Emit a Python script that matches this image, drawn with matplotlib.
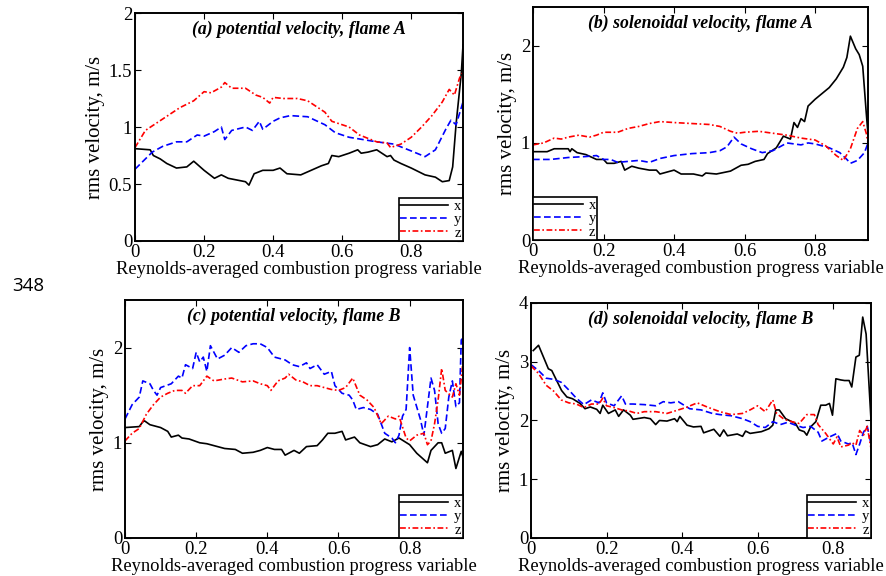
import matplotlib
matplotlib.use('Agg')
import matplotlib.pyplot as plt
from matplotlib.ticker import FormatStrFormatter

plt.rcParams['font.family'] = ['Liberation Serif', 'DejaVu Serif']

# (a) potential velocity, flame A
a_x_c = [0.0, 0.044, 0.053, 0.073, 0.092, 0.12, 0.15, 0.17, 0.20, 0.23, 0.25, 0.27, 0.32, 0.33, 0.345, 0.37, 0.40, 0.42, 0.44, 0.48,
         0.51, 0.54, 0.56, 0.57, 0.59, 0.62, 0.645, 0.655, 0.675, 0.70, 0.73, 0.74, 0.75, 0.77, 0.80, 0.84, 0.87, 0.89, 0.91, 0.92,
         0.93, 0.945, 0.95]
a_x_v = [0.81, 0.80, 0.75, 0.72, 0.68, 0.64, 0.65, 0.70, 0.62, 0.55, 0.58, 0.55, 0.52, 0.49, 0.59, 0.62, 0.62, 0.64, 0.59, 0.58,
         0.62, 0.66, 0.68, 0.75, 0.74, 0.77, 0.80, 0.77, 0.78, 0.80, 0.74, 0.75, 0.71, 0.68, 0.64, 0.58, 0.56, 0.52, 0.53, 0.65,
         1.03, 1.47, 1.72]
a_y_c = [0.0, 0.03, 0.05, 0.08, 0.12, 0.15, 0.18, 0.20, 0.23, 0.25, 0.26, 0.28, 0.32, 0.34, 0.36, 0.37, 0.40, 0.42, 0.45, 0.50,
         0.55, 0.58, 0.62, 0.70, 0.75, 0.80, 0.84, 0.87, 0.90, 0.915, 0.93, 0.95]
a_y_v = [0.63, 0.72, 0.78, 0.83, 0.87, 0.87, 0.93, 0.92, 0.96, 1.0, 0.89, 0.97, 1.0, 0.97, 1.05, 0.98, 1.05, 1.08, 1.10, 1.09,
         1.02, 0.95, 0.91, 0.87, 0.85, 0.79, 0.74, 0.80, 0.98, 1.06, 1.02, 1.22]
a_z_c = [0.0, 0.03, 0.06, 0.10, 0.13, 0.17, 0.20, 0.22, 0.25, 0.26, 0.28, 0.32, 0.35, 0.37, 0.39, 0.40, 0.43, 0.47, 0.50, 0.55,
         0.57, 0.62, 0.65, 0.70, 0.73, 0.74, 0.77, 0.80, 0.83, 0.86, 0.89, 0.91, 0.925, 0.94, 0.95]
a_z_v = [0.82, 0.97, 1.03, 1.11, 1.17, 1.23, 1.31, 1.30, 1.35, 1.39, 1.34, 1.34, 1.28, 1.26, 1.21, 1.26, 1.25, 1.25, 1.23, 1.13,
         1.05, 1.00, 0.93, 0.87, 0.86, 0.82, 0.85, 0.91, 1.00, 1.10, 1.22, 1.33, 1.28, 1.43, 1.48]

# (b) solenoidal velocity, flame A
b_x_c = [0.0, 0.04, 0.06, 0.10, 0.105, 0.11, 0.125, 0.15, 0.18, 0.20, 0.21, 0.23, 0.25, 0.26, 0.28, 0.30, 0.33, 0.35, 0.36, 0.38,
         0.40, 0.42, 0.455, 0.48, 0.49, 0.52, 0.56, 0.59, 0.61, 0.63, 0.655, 0.665, 0.69, 0.71, 0.73, 0.74, 0.75, 0.76, 0.77, 0.78,
         0.80, 0.82, 0.84, 0.86, 0.88, 0.89, 0.90, 0.915, 0.925, 0.935, 0.945, 0.952]
b_x_v = [0.91, 0.91, 0.94, 0.94, 0.91, 0.94, 0.90, 0.88, 0.83, 0.83, 0.79, 0.79, 0.81, 0.72, 0.76, 0.74, 0.72, 0.72, 0.68, 0.70,
         0.72, 0.68, 0.68, 0.66, 0.69, 0.68, 0.71, 0.77, 0.78, 0.81, 0.83, 0.89, 0.95, 1.07, 1.04, 1.21, 1.16, 1.25, 1.22, 1.38,
         1.45, 1.51, 1.57, 1.66, 1.78, 1.88, 2.10, 1.97, 1.91, 1.79, 1.31, 1.0]
b_y_c = [0.0, 0.05, 0.10, 0.15, 0.18, 0.20, 0.22, 0.24, 0.27, 0.30, 0.33, 0.36, 0.40, 0.45, 0.50, 0.53, 0.55, 0.57, 0.59, 0.62,
         0.65, 0.68, 0.72, 0.76, 0.78, 0.80, 0.84, 0.87, 0.89, 0.90, 0.92, 0.94, 0.95]
b_y_v = [0.83, 0.83, 0.85, 0.86, 0.87, 0.83, 0.83, 0.80, 0.81, 0.82, 0.80, 0.84, 0.87, 0.89, 0.90, 0.92, 0.96, 1.06, 0.99, 0.94,
         0.90, 0.92, 1.0, 0.98, 1.00, 0.99, 0.95, 0.90, 0.83, 0.79, 0.82, 0.90, 1.0]
b_z_c = [0.0, 0.03, 0.06, 0.08, 0.10, 0.13, 0.16, 0.18, 0.20, 0.24, 0.27, 0.30, 0.33, 0.36, 0.40, 0.45, 0.50, 0.53, 0.56, 0.58,
         0.60, 0.64, 0.68, 0.72, 0.76, 0.80, 0.83, 0.86, 0.88, 0.90, 0.92, 0.935, 0.945, 0.95]
b_z_v = [0.98, 1.0, 1.05, 1.04, 1.06, 1.08, 1.06, 1.08, 1.11, 1.11, 1.15, 1.17, 1.20, 1.22, 1.21, 1.20, 1.19, 1.17, 1.12, 1.10,
         1.11, 1.12, 1.10, 1.08, 1.05, 1.03, 0.97, 0.87, 0.82, 0.94, 1.15, 1.22, 1.10, 1.0]

# (c) potential velocity, flame B
c_x_c = [0.0, 0.04, 0.05, 0.055, 0.07, 0.10, 0.12, 0.13, 0.15, 0.16, 0.18, 0.21, 0.23, 0.25, 0.28, 0.31, 0.33, 0.36, 0.38, 0.40,
         0.42, 0.44, 0.45, 0.475, 0.49, 0.51, 0.54, 0.555, 0.57, 0.59, 0.61, 0.62, 0.645, 0.66, 0.69, 0.71, 0.73, 0.75, 0.77, 0.80,
         0.82, 0.85, 0.86, 0.88, 0.89, 0.90, 0.92, 0.93, 0.945, 0.95]
c_x_v = [1.16, 1.17, 1.22, 1.23, 1.19, 1.16, 1.12, 1.06, 1.08, 1.05, 1.04, 1.0, 0.99, 0.97, 0.94, 0.93, 0.89, 0.90, 0.92, 0.95,
         0.93, 0.93, 0.87, 0.92, 0.89, 0.96, 0.97, 1.03, 1.10, 1.10, 1.12, 1.03, 1.06, 1.0, 0.96, 0.98, 1.04, 1.01, 1.05, 0.98,
         0.89, 0.79, 0.92, 1.0, 1.0, 0.89, 0.92, 0.73, 0.91, 0.85]
c_y_c = [0.0, 0.02, 0.04, 0.05, 0.07, 0.08, 0.09, 0.10, 0.13, 0.15, 0.16, 0.17, 0.19, 0.20, 0.21, 0.22, 0.23, 0.24, 0.26, 0.28,
         0.30, 0.32, 0.34, 0.36, 0.38, 0.40, 0.42, 0.45, 0.47, 0.49, 0.51, 0.52, 0.54, 0.56, 0.58, 0.59, 0.61, 0.63, 0.64, 0.65,
         0.67, 0.69, 0.71, 0.73, 0.75, 0.76, 0.77, 0.78, 0.79, 0.80, 0.81, 0.83, 0.84, 0.86, 0.87, 0.88, 0.89, 0.90, 0.91, 0.92,
         0.93, 0.94, 0.945, 0.95]
c_y_v = [1.25, 1.40, 1.48, 1.65, 1.62, 1.55, 1.50, 1.58, 1.62, 1.70, 1.68, 1.82, 1.78, 1.95, 1.85, 1.90, 1.75, 2.02, 1.88, 1.92,
         2.0, 1.95, 2.02, 2.04, 2.04, 2.0, 1.90, 1.87, 1.82, 1.80, 1.84, 1.78, 1.82, 1.72, 1.75, 1.60, 1.52, 1.50, 1.45, 1.35,
         1.37, 1.35, 1.30, 1.10, 1.05, 1.0, 1.08, 1.28, 1.35, 2.0, 1.50, 1.25, 1.08, 1.68, 1.55, 1.20, 1.10, 1.15, 1.48, 1.65,
         1.38, 1.42, 2.08, 2.10]
c_z_c = [0.0, 0.02, 0.04, 0.06, 0.08, 0.10, 0.12, 0.14, 0.16, 0.17, 0.19, 0.21, 0.23, 0.25, 0.28, 0.30, 0.33, 0.36, 0.38, 0.40,
         0.41, 0.43, 0.45, 0.46, 0.48, 0.50, 0.52, 0.54, 0.56, 0.58, 0.60, 0.62, 0.64, 0.66, 0.68, 0.70, 0.72, 0.74, 0.76, 0.77,
         0.79, 0.80, 0.82, 0.84, 0.85, 0.86, 0.87, 0.88, 0.89, 0.90, 0.92, 0.93, 0.94, 0.95]
c_z_v = [1.02, 1.10, 1.15, 1.30, 1.40, 1.48, 1.52, 1.55, 1.55, 1.52, 1.60, 1.60, 1.70, 1.65, 1.67, 1.68, 1.64, 1.65, 1.62, 1.60,
         1.55, 1.65, 1.68, 1.72, 1.66, 1.64, 1.60, 1.60, 1.58, 1.56, 1.55, 1.58, 1.68, 1.50, 1.45, 1.37, 1.20, 1.28, 1.25, 1.28,
         1.05, 1.02, 1.08, 1.10, 0.98, 1.02, 1.20, 1.45, 1.78, 1.55, 1.48, 1.62, 1.50, 1.85]

# (d) solenoidal velocity, flame B
d_x_c = [0.006, 0.02, 0.033, 0.046, 0.055, 0.068, 0.081, 0.095, 0.11, 0.13, 0.143, 0.157, 0.174, 0.183, 0.19, 0.205, 0.223, 0.232,
         0.245, 0.263, 0.27, 0.30, 0.316, 0.33, 0.34, 0.36, 0.38, 0.387, 0.394, 0.413, 0.43, 0.45, 0.457, 0.484, 0.50, 0.51, 0.52,
         0.546, 0.56, 0.568, 0.58, 0.61, 0.63, 0.64, 0.648, 0.657, 0.674, 0.70, 0.71, 0.723, 0.73, 0.74, 0.754, 0.767, 0.78, 0.79,
         0.798, 0.807, 0.82, 0.83, 0.842, 0.849, 0.86, 0.869, 0.878, 0.887, 0.90]
d_x_v = [3.19, 3.28, 3.08, 2.88, 2.85, 2.68, 2.51, 2.40, 2.37, 2.29, 2.20, 2.23, 2.19, 2.12, 2.26, 2.12, 2.18, 2.07,
         2.18, 2.09, 2.02, 2.05, 2.03, 1.93, 2.0, 1.99, 2.03, 1.98, 2.07, 1.92, 1.89, 1.90, 1.79, 1.85, 1.73, 1.84, 1.74,
         1.77, 1.73, 1.82, 1.78, 1.81, 1.86, 1.92, 2.18, 2.18, 2.03, 1.95, 1.84, 1.81, 1.75, 1.89, 1.98, 2.26, 2.26, 2.29,
         2.09, 2.71, 2.69, 2.68, 2.68, 2.57, 3.08, 3.11, 3.76, 3.47, 2.0]
d_y_c = [0.0, 0.02, 0.04, 0.06, 0.08, 0.10, 0.12, 0.14, 0.16, 0.18, 0.19, 0.20, 0.22, 0.24, 0.25, 0.27, 0.30, 0.33, 0.35, 0.37,
         0.39, 0.42, 0.45, 0.48, 0.50, 0.53, 0.56, 0.58, 0.60, 0.62, 0.64, 0.66, 0.68, 0.70, 0.72, 0.74, 0.76, 0.77, 0.79, 0.81,
         0.82, 0.84, 0.85, 0.86, 0.87, 0.88, 0.89, 0.90]
d_y_v = [2.95, 2.85, 2.72, 2.70, 2.65, 2.52, 2.38, 2.27, 2.35, 2.30, 2.47, 2.30, 2.25, 2.42, 2.28, 2.28, 2.27, 2.25, 2.32, 2.30,
         2.32, 2.20, 2.18, 2.12, 2.10, 2.08, 2.03, 1.98, 1.90, 1.88, 1.98, 1.93, 1.97, 1.92, 1.88, 1.90, 1.80, 1.65, 1.72, 1.78,
         1.65, 1.60, 1.62, 1.42, 1.60, 1.80, 1.90, 1.60]
d_z_c = [0.0, 0.02, 0.04, 0.06, 0.08, 0.10, 0.12, 0.14, 0.16, 0.18, 0.19, 0.20, 0.22, 0.24, 0.26, 0.28, 0.30, 0.33, 0.36, 0.39,
         0.41, 0.44, 0.47, 0.50, 0.53, 0.56, 0.58, 0.60, 0.62, 0.64, 0.65, 0.67, 0.69, 0.71, 0.73, 0.75, 0.76, 0.78, 0.80, 0.81,
         0.82, 0.84, 0.85, 0.86, 0.87, 0.88, 0.89, 0.90]
d_z_v = [2.93, 2.80, 2.60, 2.50, 2.35, 2.30, 2.28, 2.22, 2.28, 2.28, 2.38, 2.25, 2.22, 2.18, 2.16, 2.12, 2.15, 2.15, 2.12, 2.18,
         2.22, 2.30, 2.22, 2.15, 2.10, 2.12, 2.18, 2.25, 2.15, 2.35, 2.12, 2.02, 1.98, 1.95, 2.10, 2.10, 1.93, 1.78, 1.60, 1.72,
         1.55, 1.58, 1.62, 1.58, 1.83, 1.75, 1.90, 1.52]

titles = ['(a) potential velocity, flame A', '(b) solenoidal velocity, flame A',
          '(c) potential velocity, flame B', '(d) solenoidal velocity, flame B']
xmax = [0.95, 0.95, 0.95, 0.9]
ymax = [2.0, 2.4, 2.5, 4.0]
yticks = [[0, 0.5, 1, 1.5, 2], [0, 1, 2], [0, 1, 2], [0, 1, 2, 3, 4]]
legend_loc = ['lower right', 'lower left', 'lower right', 'lower right']
data = [(a_x_c, a_x_v, a_y_c, a_y_v, a_z_c, a_z_v),
        (b_x_c, b_x_v, b_y_c, b_y_v, b_z_c, b_z_v),
        (c_x_c, c_x_v, c_y_c, c_y_v, c_z_c, c_z_v),
        (d_x_c, d_x_v, d_y_c, d_y_v, d_z_c, d_z_v)]

# axes boxes in figure fractions (left, bottom, width, height)
boxes = [[0.1524, 0.5816, 0.3702, 0.3958],
         [0.6016, 0.5833, 0.3781, 0.4045],
         [0.1411, 0.0660, 0.3815, 0.4132],
         [0.5993, 0.0660, 0.3838, 0.4080]]

fig = plt.figure(figsize=(8.86, 5.76), dpi=100)

for i in range(4):
    ax = fig.add_axes(boxes[i])
    xc, xv, yc, yv, zc, zv = data[i]
    ax.plot(xc, xv, color='black', linestyle='-', linewidth=1.2, label='x')
    ax.plot(yc, yv, color='blue', linestyle=(0, (4, 2)), linewidth=1.2, label='y')
    ax.plot(zc, zv, color='red', linestyle=(0, (3.5, 1.5, 1, 1.5)), linewidth=1.2, label='z')
    ax.set_xlim(0, xmax[i])
    ax.set_ylim(0, ymax[i])
    ax.set_xticks([0, 0.2, 0.4, 0.6, 0.8])
    ax.set_yticks(yticks[i])
    ax.xaxis.set_major_formatter(FormatStrFormatter('%g'))
    ax.yaxis.set_major_formatter(FormatStrFormatter('%g'))
    ax.tick_params(direction='in', top=True, right=True, length=4, width=0.8,
                   labelsize=13.5, pad=2, colors='black')
    for sp in ax.spines.values():
        sp.set_linewidth(1.4)
    ax.set_xlabel('Reynolds-averaged combustion progress variable', fontsize=13.3, labelpad=0)
    ax.set_ylabel('rms velocity, m/s', fontsize=15, labelpad=3)
    ax.text(0.5, 0.93, titles[i], transform=ax.transAxes, ha='center', va='center',
            fontsize=12.8, fontweight='bold', fontstyle='italic')
    leg = ax.legend(loc=legend_loc[i], fontsize=10.5, frameon=True, fancybox=False,
                    edgecolor='black', framealpha=1, borderaxespad=0, borderpad=0.1,
                    labelspacing=0.0, handlelength=3.3, handletextpad=0.4)
    leg.get_frame().set_linewidth(1.2)

fig.text(0.0135, 0.5035, '348', fontsize=13.5, family=['Open Sans', 'DejaVu Sans'], va='center')

plt.savefig('out.png', dpi=100)
plt.close()
